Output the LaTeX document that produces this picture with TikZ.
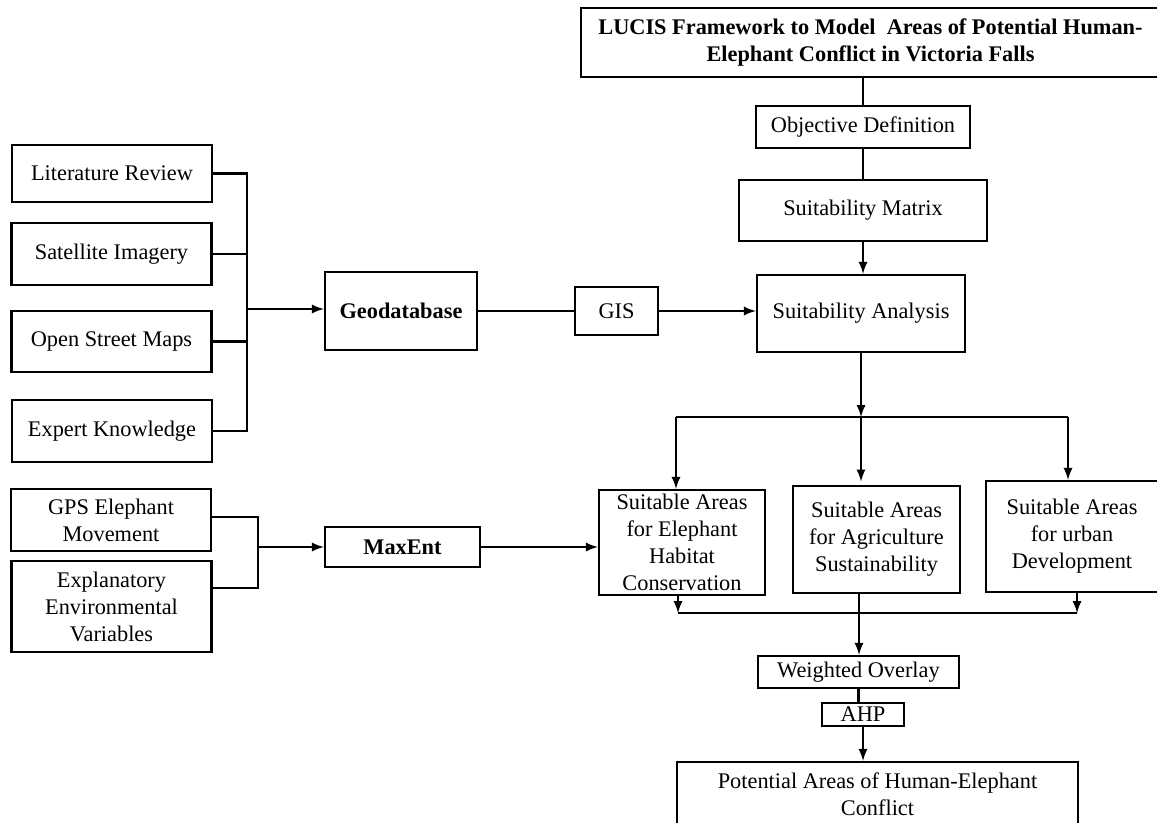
\documentclass[tikz,border=0pt]{standalone}
\usepackage{fontspec}
\setmainfont{Liberation Serif}
\usetikzlibrary{arrows}

\tikzset{
  main node/.style={draw, align=center, inner sep=0pt, font=\fontsize{13.4}{16.2}\selectfont},
  bold node/.style={main node, font=\fontsize{13.4}{16.2}\selectfont\bfseries},
  source node/.style={main node, minimum width=120pt}
}

\begin{document}
\begin{tikzpicture}[x=0.6pt, y=-0.6pt, >=latex, line width=1.45pt]
\useasboundingbox (0,0) rectangle (1157,822);
\clip (0,0) rectangle (1157,822);

% framework column
\node[bold node, minimum width=347.4pt, minimum height=41.4pt] (title) at (870.5,42.5) {LUCIS Framework to Model~ Areas of Potential Human-\\Elephant Conflict in Victoria Falls};
\node[main node, minimum width=128.4pt, minimum height=25.2pt] (obj) at (863,127) {Objective Definition};
\node[main node, minimum width=148.8pt, minimum height=36.6pt] (matrix) at (863,210.5) {Suitability Matrix};
\node[main node, minimum width=124.8pt, minimum height=46.2pt] (analysis) at (861,313.5) {Suitability Analysis};
\node[main node, minimum width=49.8pt, minimum height=28.8pt] (gis) at (616.5,311) {GIS};
\node[bold node, minimum width=91.2pt, minimum height=46.8pt] (geo) at (401,311) {Geodatabase};

% data sources
\node[source node, minimum height=34.2pt] (lit) at (112,173.5) {Literature Review};
\node[source node, minimum height=37.2pt] (sat) at (111.5,254) {Satellite Imagery};
\node[source node, minimum height=36.6pt] (osm) at (111.5,341.5) {Open Street Maps};
\node[source node, minimum height=37.2pt] (ek) at (112,431) {Expert Knowledge};
\node[source node, minimum height=37.2pt] (gps) at (111,520) {GPS Elephant\\Movement};
\node[source node, minimum height=54.6pt] (expl) at (111.5,606.5) {Explanatory\\Environmental\\Variables};
\node[bold node, minimum width=93pt, minimum height=24pt] (maxent) at (402.5,547) {MaxEnt};

% suitability outputs
\node[main node, minimum width=99.6pt, minimum height=63pt] (eleph) at (682,542.5) {Suitable Areas\\for Elephant\\Habitat\\Conservation};
\node[main node, minimum width=100.2pt, minimum height=64.2pt] (agri) at (876.5,539.5) {Suitable Areas\\for Agriculture\\Sustainability};
\node[main node, minimum width=103.2pt, minimum height=66.6pt] (urban) at (1072,536.5) {Suitable Areas\\for urban\\Development};
\node[main node, minimum width=120.6pt, minimum height=19.2pt] (wo) at (858.5,672) {Weighted Overlay};
\node[main node, minimum width=49.2pt, minimum height=13.8pt] (ahp) at (863,714.5) {AHP};
\node[main node, minimum width=240.6pt, minimum height=38.4pt] (pot) at (877.5,794) {Potential Areas of Human-Elephant\\Conflict};

\coordinate (inbus) at (247,309);
\coordinate (mbus) at (258,547);
\coordinate (split) at (861,417);
\coordinate (sl) at (676,417);
\coordinate (sr) at (1068,417);
\coordinate (ml) at (678,613);
\coordinate (mm) at (859,613);
\coordinate (mr) at (1077,613);

\draw (obj.north) -- (obj.north |- title.south);
\draw (obj.south) -- (matrix.north);
\draw[->] (matrix.south) -- (matrix.south |- analysis.north);
\draw (lit.east) -| (ek.east -| inbus) -- (ek.east);
\draw (sat.east) -- (sat.east -| inbus);
\draw (osm.east) -- (osm.east -| inbus);
\draw[->] (inbus) -- (inbus -| geo.west);
\draw (geo.east) -- (gis.west);
\draw[->] (gis.east) -- (gis.east -| analysis.west);
\draw ([yshift=1.8pt]gps.east) -| (mbus) |- ([yshift=11pt]expl.east);
\draw[->] (mbus) -- (maxent.west);
\draw[->] (maxent.east) -- (maxent.east -| eleph.west);
\draw[->] (analysis.south) -- (split);
\draw (sl) -- (sr);
\draw[->] (sl) -- (sl |- eleph.north);
\draw[->] (split) -- ([yshift=2pt]split |- agri.north);
\draw[->] (sr) -- (sr |- urban.north);
\draw[->] (eleph.south -| ml) -- (ml);
\draw[->] (urban.south -| mr) -- (mr);
\draw (ml) -- (mr);
\draw[->] (agri.south -| mm) -- (mm |- wo.north);
\draw (wo.south) -- (wo.south |- ahp.north);
\draw[->] (ahp.south) -- (ahp.south |- pot.north);
\end{tikzpicture}
\end{document}
